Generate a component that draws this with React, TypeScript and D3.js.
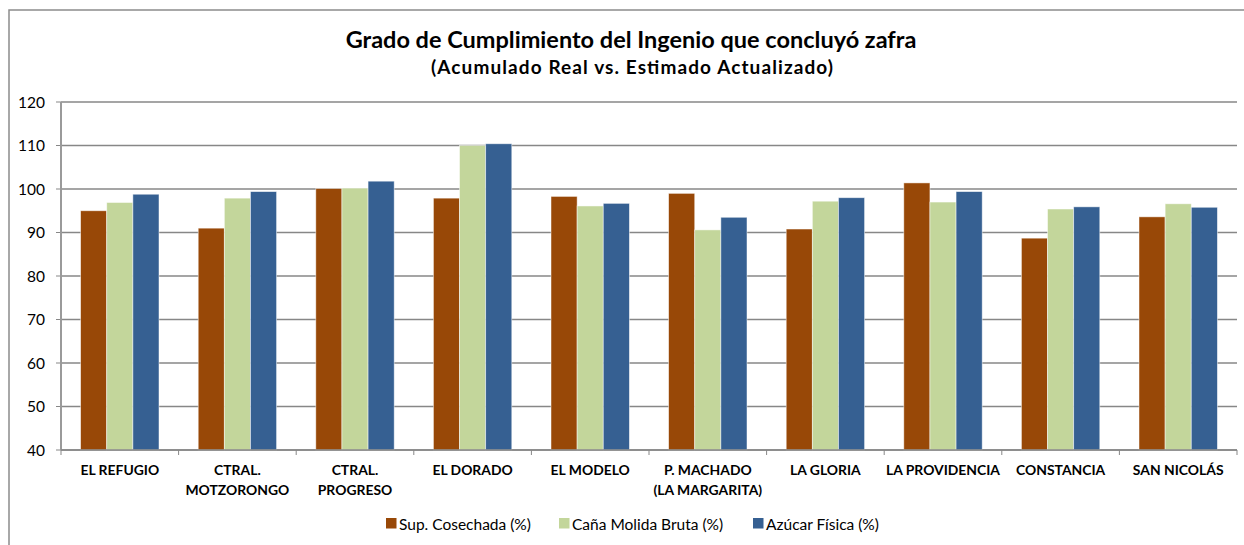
import React from 'react'
import * as d3 from 'd3'

const categories = [
  ['EL REFUGIO'],
  ['CTRAL.', 'MOTZORONGO'],
  ['CTRAL.', 'PROGRESO'],
  ['EL DORADO'],
  ['EL MODELO'],
  ['P. MACHADO', '(LA MARGARITA)'],
  ['LA GLORIA'],
  ['LA PROVIDENCIA'],
  ['CONSTANCIA'],
  ['SAN NICOLÁS'],
]
const supCosechada = [95.0, 91.0, 100.1, 97.9, 98.3, 99.0, 90.8, 101.4, 88.7, 93.6]
const canaMolida = [96.9, 97.9, 100.2, 110.0, 96.1, 90.6, 97.2, 97.0, 95.4, 96.6]
const azucarFisica = [98.8, 99.4, 101.8, 110.4, 96.7, 93.5, 98.0, 99.4, 95.9, 95.8]
const seriesNames = ['Sup. Cosechada (%)', 'Caña Molida Bruta (%)', 'Azúcar Física (%)']
const seriesColors = ['#984807', '#c3d69b', '#366092']
const yTicks = [40, 50, 60, 70, 80, 90, 100, 110, 120]

const font = 'Lato, "Open Sans", sans-serif'

export default function App() {
  const width = 1244, height = 545
  const margin = { top: 102, right: 7, bottom: 95, left: 61 }
  const w = width - margin.left - margin.right
  const h = height - margin.top - margin.bottom
  const series = [supCosechada, canaMolida, azucarFisica]

  // gap width 150%, like the spreadsheet default
  const x0 = d3.scaleBand<number>().domain(d3.range(categories.length)).range([0, w])
  const bw = x0.bandwidth()
  const x1 = d3.scaleBand<number>().domain([0, 1, 2]).range([bw * 0.75 / 4.5, bw - bw * 0.75 / 4.5])
  const y = d3.scaleLinear().domain([40, 120]).range([h, 0])

  const legendX = [386, 559, 753]

  return (
    <svg width={width} height={height} style={{ position: 'absolute', left: 0, top: 0 }}>
      <rect x={9} y={10} width={1240} height={540} fill="#fff" stroke="#8c8c8c" strokeWidth={1.5} />
      <text x={631} y={48} textAnchor="middle" fontFamily={font} fontWeight="bold" fontSize={23.5}>
        Grado de Cumplimiento del Ingenio que concluyó zafra
      </text>
      <text x={632} y={74} textAnchor="middle" fontFamily={font} fontWeight="bold" fontSize={19}
        textLength={402} lengthAdjust="spacing">
        (Acumulado Real vs. Estimado Actualizado)
      </text>
      <g transform={`translate(${margin.left},${margin.top})`}>
        {yTicks.map(t => (
          <g key={t}>
            <line x1={0} x2={w} y1={y(t)} y2={y(t)} stroke="#878787" strokeWidth={1.5} />
            <line x1={-5} x2={0} y1={y(t)} y2={y(t)} stroke="#878787" strokeWidth={1} />
            <text x={-16} y={y(t) + 5.5} textAnchor="end" fontFamily={font} fontSize={15.5}>{t}</text>
          </g>
        ))}
        {categories.map((c, i) => (
          <g key={i} transform={`translate(${x0(i)},0)`}>
            {series.map((s, j) => (
              <rect key={j} x={x1(j)} y={y(s[i])} width={x1.bandwidth()} height={h - y(s[i])}
                fill={seriesColors[j]} stroke="rgba(255,255,255,0.6)" strokeWidth={0.8} />
            ))}
            <line x1={0} x2={0} y1={h} y2={h + 5} stroke="#878787" />
            {c.map((line, k) => (
              <text key={k} x={bw / 2} y={h + 25 + k * 20} textAnchor="middle" fontFamily={font}
                fontWeight="bold" fontSize={13.9}>{line}</text>
            ))}
          </g>
        ))}
        <line x1={w} x2={w} y1={h} y2={h + 5} stroke="#878787" />
        <line x1={0} x2={0} y1={0} y2={h} stroke="#9a9a9a" strokeWidth={2} />
        <line x1={0} x2={w} y1={h} y2={h} stroke="#878787" strokeWidth={1.5} />
      </g>
      {seriesNames.map((n, j) => (
        <g key={n} transform={`translate(${legendX[j]},518)`}>
          <rect x={0} y={0} width={10.5} height={10.5} fill={seriesColors[j]} />
          <text x={13} y={11.5} fontFamily={font} fontSize={15.5}>{n}</text>
        </g>
      ))}
    </svg>
  )
}
